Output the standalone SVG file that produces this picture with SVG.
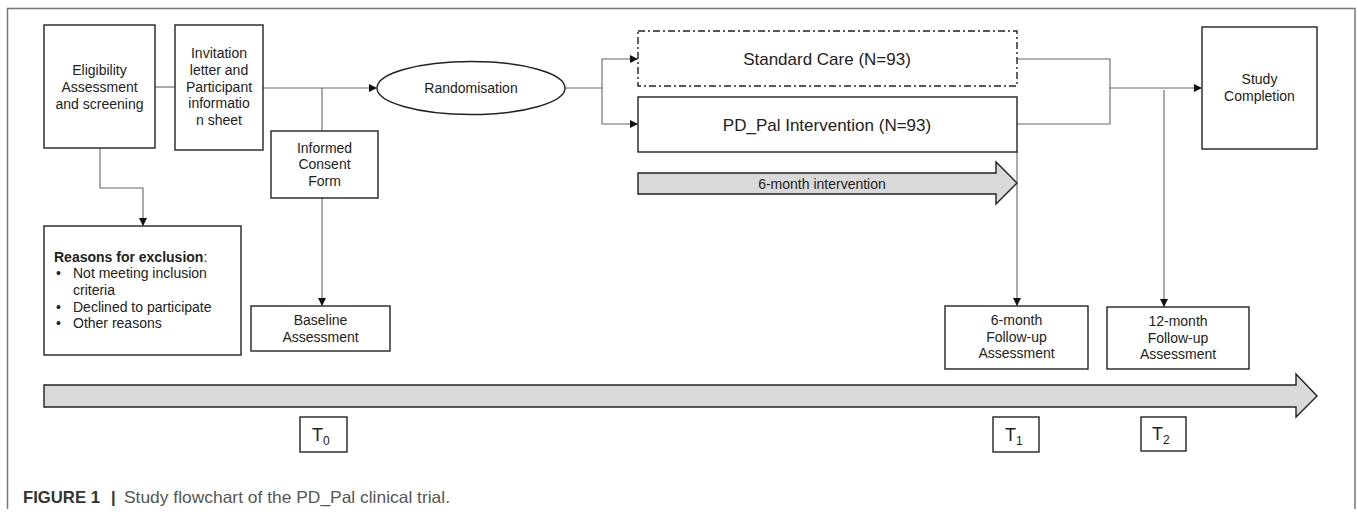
<svg xmlns="http://www.w3.org/2000/svg" width="1357" height="519" viewBox="0 0 1357 519">
<style>
.box{fill:#fff;stroke:#222;stroke-width:1.4}
.t{font-family:"Liberation Sans",Arial,sans-serif;font-size:14px;fill:#222;text-anchor:middle}
.tl{font-family:"Liberation Sans",Arial,sans-serif;font-size:14px;fill:#222}
.big{font-size:17px}
.con{fill:none;stroke:#666;stroke-width:1.1}
.arr{fill:#d9d9d9;stroke:#222;stroke-width:1.4;stroke-linejoin:miter}
.tt{font-family:"Liberation Sans",Arial,sans-serif;font-size:18px;fill:#222}
.sub{font-size:12px}
.cap{font-family:"Liberation Sans",Arial,sans-serif;font-size:16.5px}
</style>
<defs>
<marker id="ah" markerWidth="8" markerHeight="8" refX="8" refY="4" orient="auto" markerUnits="userSpaceOnUse">
<path d="M0,0 L8,4 L0,8 z" fill="#111"/>
</marker>
</defs>
<rect width="1357" height="519" fill="#fff"/>
<path d="M7.5,509 V8.5 H1355 V509" fill="none" stroke="#777" stroke-width="1.5"/>

<g id="connectors">
<path class="con" d="M155,87 H175"/>
<path class="con" d="M263,88 H377" marker-end="url(#ah)"/>
<path class="con" d="M322,88 V131"/>
<path class="con" d="M322,198 V306" marker-end="url(#ah)"/>
<path class="con" d="M100,148 V188 H143 V226" marker-end="url(#ah)"/>
<path class="con" d="M565,88 H602"/>
<path class="con" d="M602,88 V59 H638" marker-end="url(#ah)"/>
<path class="con" d="M602,88 V124 H638" marker-end="url(#ah)"/>
<path class="con" d="M1017,59 H1110 V124 H1017"/>
<path class="con" d="M1110,88 H1202" marker-end="url(#ah)"/>
<path class="con" d="M1164,90 V307" marker-end="url(#ah)"/>
<path class="con" d="M1017,152 V306" marker-end="url(#ah)"/>
</g>

<g id="eligibility">
<rect class="box" x="44" y="25" width="111" height="123"/>
<text class="t" x="99.5" y="75">Eligibility</text>
<text class="t" x="99.5" y="92">Assessment</text>
<text class="t" x="99.5" y="109">and screening</text>
</g>

<g id="invitation">
<rect class="box" x="175" y="25" width="88" height="125"/>
<text class="t" x="219" y="58">Invitation</text>
<text class="t" x="219" y="75">letter and</text>
<text class="t" x="219" y="92">Participant</text>
<text class="t" x="219" y="108">informatio</text>
<text class="t" x="219" y="125">n sheet</text>
</g>

<g id="consent">
<rect class="box" x="271" y="131" width="107" height="67"/>
<text class="t" x="324.5" y="153">Informed</text>
<text class="t" x="324.5" y="169">Consent</text>
<text class="t" x="324.5" y="186">Form</text>
</g>

<g id="baseline">
<rect class="box" x="251" y="306" width="139" height="45"/>
<text class="t" x="320.5" y="325">Baseline</text>
<text class="t" x="320.5" y="342">Assessment</text>
</g>

<g id="exclusion">
<rect class="box" x="44" y="226" width="197" height="129"/>
<text class="tl" x="54" y="262"><tspan font-weight="bold">Reasons for exclusion</tspan>:</text>
<text class="tl" x="56" y="278">•</text>
<text class="tl" x="73" y="278">Not meeting inclusion</text>
<text class="tl" x="73" y="295">criteria</text>
<text class="tl" x="56" y="312">•</text>
<text class="tl" x="73" y="312">Declined to participate</text>
<text class="tl" x="56" y="328">•</text>
<text class="tl" x="73" y="328">Other reasons</text>
</g>

<g id="randomisation">
<ellipse cx="471" cy="88" rx="94" ry="26.5" fill="#fff" stroke="#222" stroke-width="1.4"/>
<text class="t" x="471" y="93">Randomisation</text>
</g>

<g id="standard-care">
<rect x="638" y="31" width="379" height="55" fill="#fff" stroke="#222" stroke-width="1.4" stroke-dasharray="7 3 2 3"/>
<text class="t big" x="827" y="65">Standard Care (N=93)</text>
</g>

<g id="pdpal">
<rect class="box" x="638" y="97" width="379" height="55"/>
<text class="t big" x="827" y="130.5">PD_Pal Intervention (N=93)</text>
</g>

<g id="intervention-arrow">
<path class="arr" d="M638,173 H996 V162 L1017,183 L996,204 V194 H638 Z"/>
<text class="t" x="822" y="189" font-size="15.4">6-month intervention</text>
</g>

<g id="completion">
<rect class="box" x="1202" y="27" width="115" height="122"/>
<text class="t" x="1259.5" y="84">Study</text>
<text class="t" x="1259.5" y="101">Completion</text>
</g>

<g id="followup6">
<rect class="box" x="945" y="306" width="143" height="63"/>
<text class="t" x="1016.5" y="325">6-month</text>
<text class="t" x="1016.5" y="342">Follow-up</text>
<text class="t" x="1016.5" y="358">Assessment</text>
</g>

<g id="followup12">
<rect class="box" x="1107" y="307" width="142" height="62"/>
<text class="t" x="1178" y="326">12-month</text>
<text class="t" x="1178" y="343">Follow-up</text>
<text class="t" x="1178" y="359">Assessment</text>
</g>

<g id="timeline">
<path class="arr" d="M44,385 H1296 V374 L1317,396 L1296,417 V407 H44 Z"/>
</g>

<g id="t0">
<rect class="box" x="300" y="417" width="47" height="35"/>
<text class="tt" x="312" y="441">T<tspan class="sub" dy="4">0</tspan></text>
</g>
<g id="t1">
<rect class="box" x="993" y="417" width="46" height="35"/>
<text class="tt" x="1005" y="441">T<tspan class="sub" dy="4">1</tspan></text>
</g>
<g id="t2">
<rect class="box" x="1141" y="417" width="45" height="34"/>
<text class="tt" x="1152" y="440">T<tspan class="sub" dy="4">2</tspan></text>
</g>

<g id="caption">
<text class="cap" x="23" y="503" font-weight="bold" fill="#333" textLength="77" lengthAdjust="spacingAndGlyphs">FIGURE 1</text>
<text class="cap" x="111" y="503" font-weight="bold" fill="#333">|</text>
<text class="cap" x="124" y="503" fill="#555" textLength="326" lengthAdjust="spacingAndGlyphs">Study flowchart of the PD_Pal clinical trial.</text>
</g>
</svg>
